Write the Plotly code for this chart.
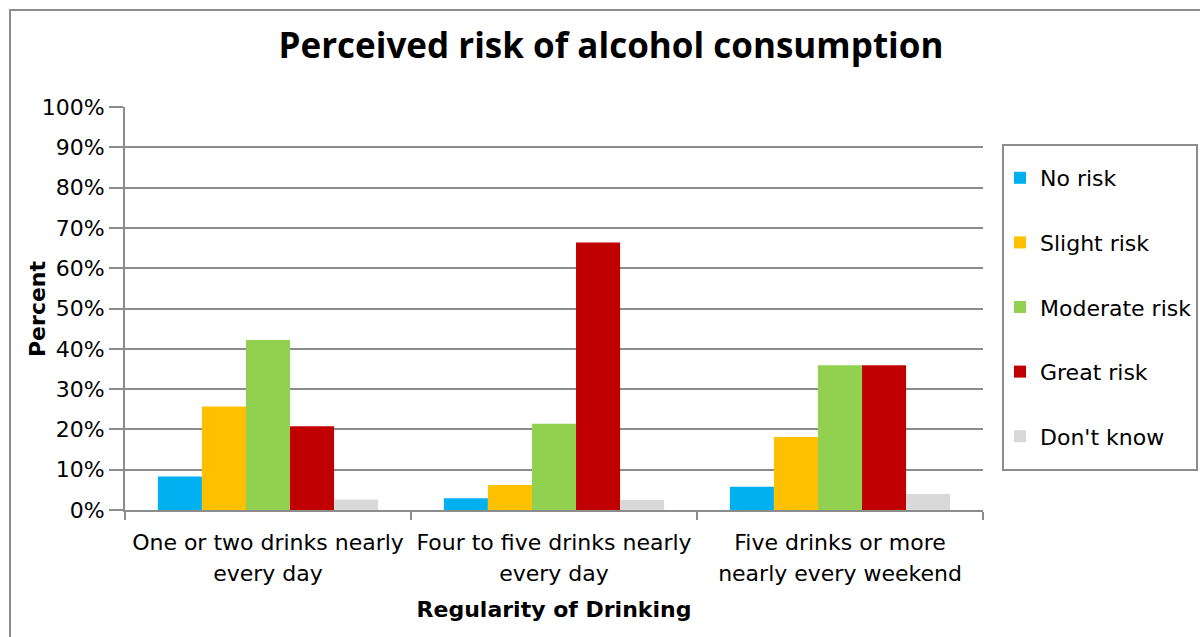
import plotly.graph_objects as go

categories = ["One or two drinks nearly<br>every day",
              "Four to five drinks nearly<br>every day",
              "Five drinks or more<br>nearly every weekend"]
series_names = ["No risk", "Slight risk", "Moderate risk", "Great risk", "Don't know"]
no_risk = [8.3, 2.9, 5.8]
slight_risk = [25.7, 6.2, 18.1]
moderate_risk = [42.2, 21.4, 35.9]
great_risk = [20.8, 66.4, 35.9]
dont_know = [2.6, 2.5, 4.0]
colors = ["#00B0F0", "#FFC000", "#92D050", "#C00000", "#D9D9D9"]
y_ticks = list(range(0, 101, 10))
y_ticktext = [f"{v}%" for v in y_ticks]

FONT = "DejaVu Sans"
TFONT = "Open Sans"
cat_text = ["<br>".join(f"<span style='font-size:22px'>{p}</span>" for p in c.split("<br>"))
            for c in categories]

fig = go.Figure()
for i, (name, vals) in enumerate(zip(series_names,
                                     [no_risk, slight_risk, moderate_risk, great_risk, dont_know])):
    fig.add_trace(go.Bar(x=categories, y=vals, name=name, marker_color=colors[i],
                         marker_line_width=0, legendgroup=name))

W, H = 1200, 637
l, r, t, b = 125, 217, 107, 127
PW, PH = W - l - r, H - t - b
def px(x):
    return (x - l) / PW
def py(y):
    return (H - b - y) / PH

fig.update_layout(
    width=W, height=H,
    margin=dict(l=l, r=r, t=t, b=b, autoexpand=False),
    paper_bgcolor="white", plot_bgcolor="white",
    font=dict(family=FONT, color="black", size=21),
    title=dict(text="<b>Perceived risk of alcohol consumption</b>",
               x=611 / W, xanchor="center", y=1 - 46 / H, yanchor="middle",
               yref="container", xref="container",
               font=dict(size=35, family=TFONT)),
    bargap=0.23, bargroupgap=0,
    showlegend=True,
    legend=dict(x=px(1000), xanchor="left",
                y=py(157), yanchor="top",
                borderwidth=0, bgcolor="rgba(0,0,0,0)",
                font=dict(size=22, family=FONT),
                traceorder="grouped", tracegroupgap=33,
                itemwidth=30),
    xaxis=dict(showline=True, linecolor="#8C8C8C", linewidth=2,
               ticks="outside", tickson="boundaries", ticklen=8,
               tickcolor="#8C8C8C", tickwidth=2,
               tickvals=categories, ticktext=cat_text,
               tickfont=dict(size=24), ticklabelstandoff=9,
               title=dict(text="<b>Regularity of Drinking</b>", font=dict(size=22), standoff=17)),
    yaxis=dict(range=[0, 100], tickvals=y_ticks, ticktext=y_ticktext,
               showline=True, linecolor="#8C8C8C", linewidth=2,
               ticks="outside", ticklen=14, tickcolor="#8C8C8C", tickwidth=2,
               showgrid=True, gridcolor="#8C8C8C", gridwidth=2,
               zeroline=False, tickfont=dict(size=22), ticklabelstandoff=0),
    annotations=[dict(text="<b>Percent</b>", xref="paper", yref="paper",
                      x=px(37), y=py(309), xanchor="center", yanchor="middle",
                      textangle=-90, showarrow=False, font=dict(size=22, family=FONT))],
    shapes=[dict(type="rect", xref="paper", yref="paper",
                 x0=px(10), x1=px(1205), y0=py(645), y1=py(10),
                 line=dict(color="#8C8C8C", width=2), layer="below"),
            dict(type="rect", xref="paper", yref="paper",
                 x0=px(1003), x1=px(1197), y0=py(470), y1=py(145),
                 line=dict(color="#8C8C8C", width=2), layer="below")],
)
fig.write_html("out.html", config={"displayModeBar": False},
               post_script="document.body.style.margin='0';")
